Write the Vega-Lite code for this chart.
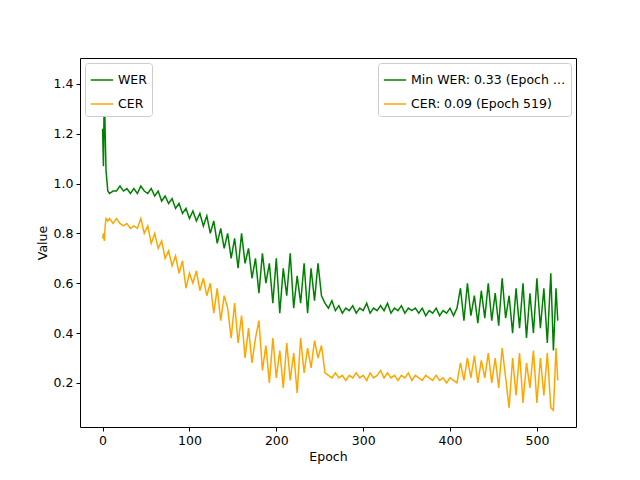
{
"$schema":"https://vega.github.io/schema/vega-lite/v6.json",
"width":496,"height":369,"autosize":{"type":"none"},"padding":{"left":80,"top":58,"right":64,"bottom":53},
"config":{"font":"DejaVu Sans","view":{"stroke":"black","strokeWidth":1},
"axis":{"grid":false,"domain":false,"tickColor":"black","labelColor":"black","titleColor":"black","labelFontSize":12.5,"titleFontSize":12.5,"titleFontWeight":"normal","tickSize":4,"labelPadding":3},
"legend":{"labelFontSize":12.5,"fillColor":"white","strokeColor":"#cccccc","padding":5,"cornerRadius":3,"symbolType":"stroke","symbolSize":500,"symbolStrokeWidth":1.5,"rowPadding":5,"offset":5}},
"layer":[
{"data":{"values":[
{"e":0,"w":1.22,"c":0.78},{"e":1,"w":1.07,"c":0.80},{"e":2,"w":1.40,"c":0.77},{"e":3,"w":1.20,"c":0.83},{"e":4,"w":1.05,"c":0.86},{"e":6,"w":0.97,"c":0.85},{"e":8,"w":0.96,"c":0.86},{"e":12,"w":0.97,"c":0.84},{"e":16,"w":0.97,"c":0.86},{"e":20,"w":0.99,"c":0.84},{"e":24,"w":0.97,"c":0.83},{"e":28,"w":0.98,"c":0.84},{"e":32,"w":0.96,"c":0.82},{"e":36,"w":0.98,"c":0.83},{"e":40,"w":0.96,"c":0.82},{"e":44,"w":0.99,"c":0.86},{"e":48,"w":0.97,"c":0.80},{"e":52,"w":0.96,"c":0.83},{"e":56,"w":0.98,"c":0.76},{"e":60,"w":0.95,"c":0.80},{"e":64,"w":0.97,"c":0.74},{"e":68,"w":0.93,"c":0.77},{"e":72,"w":0.95,"c":0.70},{"e":76,"w":0.92,"c":0.73},{"e":80,"w":0.94,"c":0.67},{"e":84,"w":0.90,"c":0.71},{"e":88,"w":0.92,"c":0.64},{"e":92,"w":0.88,"c":0.69},{"e":96,"w":0.90,"c":0.58},{"e":100,"w":0.86,"c":0.64},{"e":104,"w":0.89,"c":0.60},{"e":108,"w":0.85,"c":0.65},{"e":112,"w":0.88,"c":0.57},{"e":116,"w":0.83,"c":0.62},{"e":120,"w":0.87,"c":0.55},{"e":124,"w":0.80,"c":0.60},{"e":128,"w":0.85,"c":0.48},{"e":132,"w":0.76,"c":0.58},{"e":136,"w":0.82,"c":0.45},{"e":140,"w":0.74,"c":0.55},{"e":144,"w":0.80,"c":0.50},{"e":148,"w":0.70,"c":0.38},{"e":152,"w":0.78,"c":0.52},{"e":156,"w":0.66,"c":0.36},{"e":160,"w":0.80,"c":0.47},{"e":164,"w":0.68,"c":0.30},{"e":168,"w":0.74,"c":0.42},{"e":172,"w":0.62,"c":0.28},{"e":176,"w":0.70,"c":0.38},{"e":180,"w":0.56,"c":0.45},{"e":184,"w":0.72,"c":0.25},{"e":188,"w":0.60,"c":0.35},{"e":192,"w":0.68,"c":0.20},{"e":196,"w":0.52,"c":0.38},{"e":200,"w":0.70,"c":0.22},{"e":204,"w":0.48,"c":0.33},{"e":208,"w":0.66,"c":0.18},{"e":212,"w":0.55,"c":0.36},{"e":216,"w":0.72,"c":0.21},{"e":220,"w":0.50,"c":0.32},{"e":224,"w":0.63,"c":0.16},{"e":228,"w":0.52,"c":0.38},{"e":232,"w":0.68,"c":0.24},{"e":236,"w":0.48,"c":0.34},{"e":240,"w":0.66,"c":0.26},{"e":244,"w":0.53,"c":0.37},{"e":248,"w":0.68,"c":0.30},{"e":252,"w":0.55,"c":0.35},{"e":256,"w":0.52,"c":0.24},{"e":260,"w":0.50,"c":0.23},{"e":264,"w":0.53,"c":0.22},{"e":268,"w":0.49,"c":0.24},{"e":272,"w":0.51,"c":0.22},{"e":276,"w":0.48,"c":0.23},{"e":280,"w":0.50,"c":0.21},{"e":284,"w":0.49,"c":0.23},{"e":288,"w":0.51,"c":0.22},{"e":292,"w":0.48,"c":0.24},{"e":296,"w":0.50,"c":0.22},{"e":300,"w":0.49,"c":0.23},{"e":304,"w":0.52,"c":0.21},{"e":308,"w":0.48,"c":0.24},{"e":312,"w":0.50,"c":0.22},{"e":316,"w":0.49,"c":0.23},{"e":320,"w":0.51,"c":0.25},{"e":324,"w":0.49,"c":0.22},{"e":328,"w":0.52,"c":0.24},{"e":332,"w":0.48,"c":0.22},{"e":336,"w":0.50,"c":0.23},{"e":340,"w":0.49,"c":0.21},{"e":344,"w":0.51,"c":0.23},{"e":348,"w":0.48,"c":0.22},{"e":352,"w":0.50,"c":0.24},{"e":356,"w":0.49,"c":0.21},{"e":360,"w":0.50,"c":0.23},{"e":364,"w":0.48,"c":0.22},{"e":368,"w":0.50,"c":0.21},{"e":372,"w":0.47,"c":0.23},{"e":376,"w":0.49,"c":0.22},{"e":380,"w":0.48,"c":0.21},{"e":384,"w":0.50,"c":0.23},{"e":388,"w":0.47,"c":0.21},{"e":392,"w":0.49,"c":0.22},{"e":396,"w":0.48,"c":0.20},{"e":400,"w":0.50,"c":0.22},{"e":404,"w":0.47,"c":0.21},{"e":408,"w":0.50,"c":0.20},{"e":412,"w":0.58,"c":0.28},{"e":416,"w":0.45,"c":0.21},{"e":420,"w":0.60,"c":0.30},{"e":424,"w":0.47,"c":0.22},{"e":428,"w":0.55,"c":0.31},{"e":432,"w":0.44,"c":0.20},{"e":436,"w":0.57,"c":0.29},{"e":440,"w":0.46,"c":0.22},{"e":444,"w":0.60,"c":0.32},{"e":448,"w":0.45,"c":0.20},{"e":452,"w":0.56,"c":0.30},{"e":456,"w":0.43,"c":0.18},{"e":460,"w":0.62,"c":0.34},{"e":464,"w":0.46,"c":0.22},{"e":468,"w":0.55,"c":0.10},{"e":472,"w":0.40,"c":0.30},{"e":476,"w":0.58,"c":0.15},{"e":480,"w":0.42,"c":0.32},{"e":484,"w":0.60,"c":0.12},{"e":488,"w":0.38,"c":0.28},{"e":492,"w":0.56,"c":0.18},{"e":496,"w":0.40,"c":0.33},{"e":500,"w":0.62,"c":0.12},{"e":504,"w":0.42,"c":0.30},{"e":508,"w":0.58,"c":0.15},{"e":512,"w":0.36,"c":0.32},{"e":516,"w":0.64,"c":0.10},{"e":519,"w":0.33,"c":0.09},{"e":522,"w":0.58,"c":0.34},{"e":524,"w":0.45,"c":0.21}
]},
"transform":[{"fold":["w","c"],"as":["k","v"]},{"lookup":"k","from":{"data":{"values":[{"k":"w","s":"WER"},{"k":"c","s":"CER"}]},"key":"k","fields":["s"]}}],
"mark":{"type":"line","strokeWidth":1.5,"clip":true},
"encoding":{
"x":{"field":"e","type":"quantitative","title":"Epoch","scale":{"domain":[-26,545],"nice":false,"zero":false},"axis":{"values":[0,100,200,300,400,500]}},
"y":{"field":"v","type":"quantitative","title":"Value","scale":{"domain":[0.023,1.504],"nice":false,"zero":false},"axis":{"values":[0.2,0.4,0.6,0.8,1.0,1.2,1.4],"format":".1f"}},
"color":{"field":"s","type":"nominal","scale":{"domain":["WER","CER"],"range":["green","orange"]},"legend":{"title":null,"orient":"top-left"}},
"detail":{"field":"k"}}},
{"data":{"values":[{"l":"Min WER: 0.33 (Epoch 519)","e":519,"v":0.33},{"l":"CER: 0.09 (Epoch 519)","e":519,"v":0.09}]},
"mark":{"type":"line","strokeWidth":1.5},
"encoding":{"x":{"field":"e","type":"quantitative"},"y":{"field":"v","type":"quantitative"},
"color":{"field":"l","type":"nominal","scale":{"domain":["Min WER: 0.33 (Epoch 519)","CER: 0.09 (Epoch 519)"],"range":["green","orange"]},"legend":{"title":null,"orient":"top-right"}}}}
],
"resolve":{"scale":{"color":"independent"}}
}
